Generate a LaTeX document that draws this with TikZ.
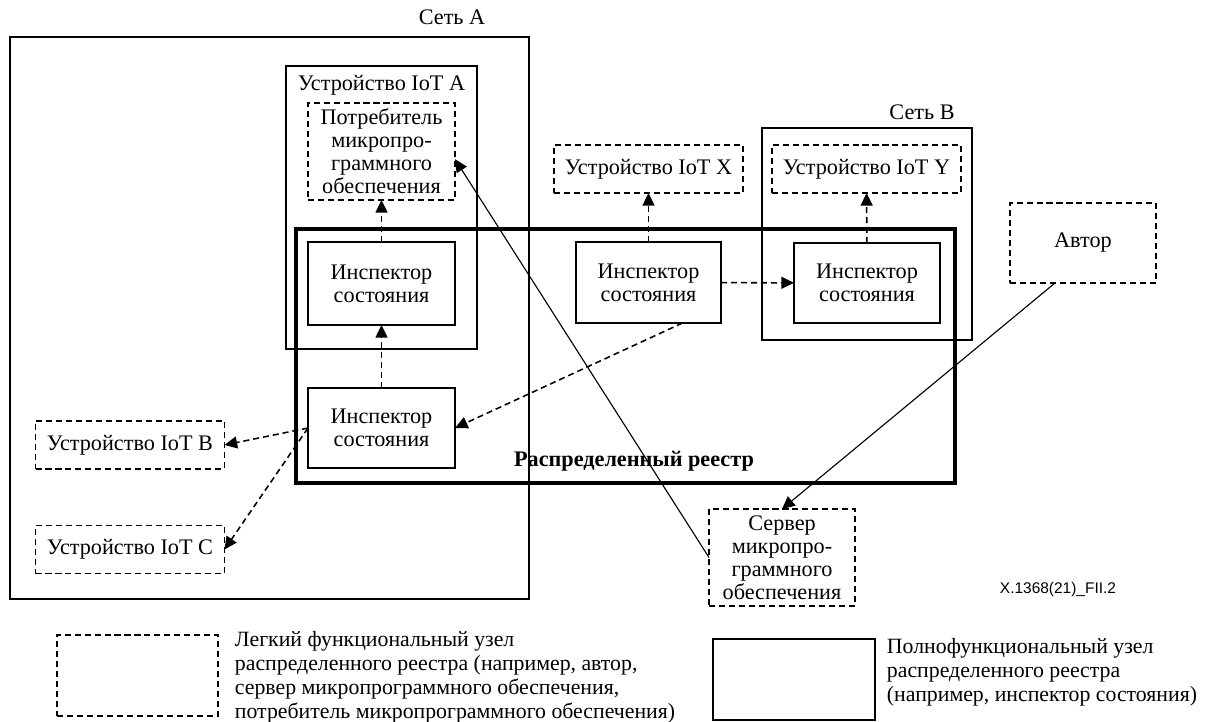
\documentclass[tikz,border=0pt]{standalone}
\usepackage{fontspec}
\setmainfont{Liberation Serif}
\newfontfamily\figsans{Liberation Sans}
\usetikzlibrary{arrows.meta}

\begin{document}
\begin{tikzpicture}[x=0.025cm, y=-0.025cm,
    font=\fontsize{15.8}{16.3}\selectfont,
    box/.style 2 args={rectangle, inner sep=0pt, outer sep=0pt, align=center,
      minimum width=#1*0.025cm, minimum height=#2*0.025cm},
    full/.style={draw, line width=0.9pt},
    lite/.style={draw, line width=1.2pt, dash pattern=on 4.3pt off 2.8pt},
    ledgerbox/.style={draw, line width=3pt},
    flow/.style={-{Triangle[length=9pt,width=8.5pt]}, line width=1.1pt, dash pattern=on 4.3pt off 2.8pt},
    link/.style={-{Triangle[length=9pt,width=8.5pt]}, line width=0.8pt}]
  \useasboundingbox (0,0) rectangle (1215,722);

  % networks and devices
  \node[full, box={519}{562}] (netA) at (269.5,318) {};
  \node (netAlbl) at (452,17) {Сеть A};
  \node[full, box={191}{283}] (iotA) at (381.5,207.5) {};
  \node (iotAlbl) at (381.5,85) {Устройство IoT A};
  \node[full, box={210}{212}] (netB) at (867,234) {};
  \node (netBlbl) at (922,112) {Сеть B};

  \node[ledgerbox, box={659}{254}] (ledger) at (625.5,356) {};
  \node[font=\fontsize{15.8}{16.3}\selectfont\bfseries] (ledgerlbl) at (634,461) {Распределенный реестр};

  % full nodes
  \foreach \name/\x/\y/\w/\h in {
    inspA/381.5/283.5/147/83,
    inspB/381.5/428/147/80,
    inspX/648.5/282.5/145/81,
    inspY/867/283/146/80} {
      \node[full, box={\w}{\h}] (\name) at (\x,\y) {Инспектор\\состояния};
    }

  % light nodes
  \node[lite, box={147}{97}] (cons) at (381.5,151.5) {Потребитель\\микропро-\\граммного\\обеспечения};
  \node[lite, box={146}{97}] (server) at (782,557.5) {Сервер\\микропро-\\граммного\\обеспечения};
  \node[lite, box={146}{80}] (author) at (1083,243) {Автор};
  \foreach \name/\x/\y/\lbl in {
    iotX/648.5/169/X,
    iotY/866.5/169/Y,
    iotB/130/445/B,
    iotC/130/549.5/C} {
      \node[lite, box={189}{48}] (\name) at (\x,\y) {Устройство IoT \lbl};
    }

  % connectors
  \draw[flow] (inspA) -- (cons);
  \draw[flow] (inspB) -- (inspA);
  \draw[flow] (inspX) -- (iotX);
  \draw[flow] (inspY) -- (iotY);
  \draw[flow] (inspX) -- (inspY);
  \draw[flow] (inspX.-50) -- (inspB.east);
  \draw[flow] (inspB.west) -- (iotB.east);
  \draw[flow] (inspB.west) -- (iotC.east);
  \draw[link] (server.west) -- (cons.-6);
  \draw[link] (author.-125) -- (server.north);

  \node[font=\figsans\fontsize{11}{13}\selectfont] (figid) at (1058,589) {X.1368(21)\_FII.2};

  % legend
  \node[lite, box={161}{81}] (legLite) at (137.5,675.5) {};
  \node[anchor=west, align=left, font=\fontsize{15.5}{17}\selectfont] (legLiteTxt) at (230,677.5)
    {Легкий функциональный узел\\распределенного реестра (например, автор,\\сервер микропрограммного обеспечения,\\потребитель микропрограммного обеспечения)};
  \node[full, box={162}{81}] (legFull) at (794,679.5) {};
  \node[anchor=west, align=left, font=\fontsize{15.5}{17}\selectfont] (legFullTxt) at (882,672.5)
    {Полнофункциональный узел\\распределенного реестра\\(например, инспектор состояния)};
\end{tikzpicture}
\end{document}
